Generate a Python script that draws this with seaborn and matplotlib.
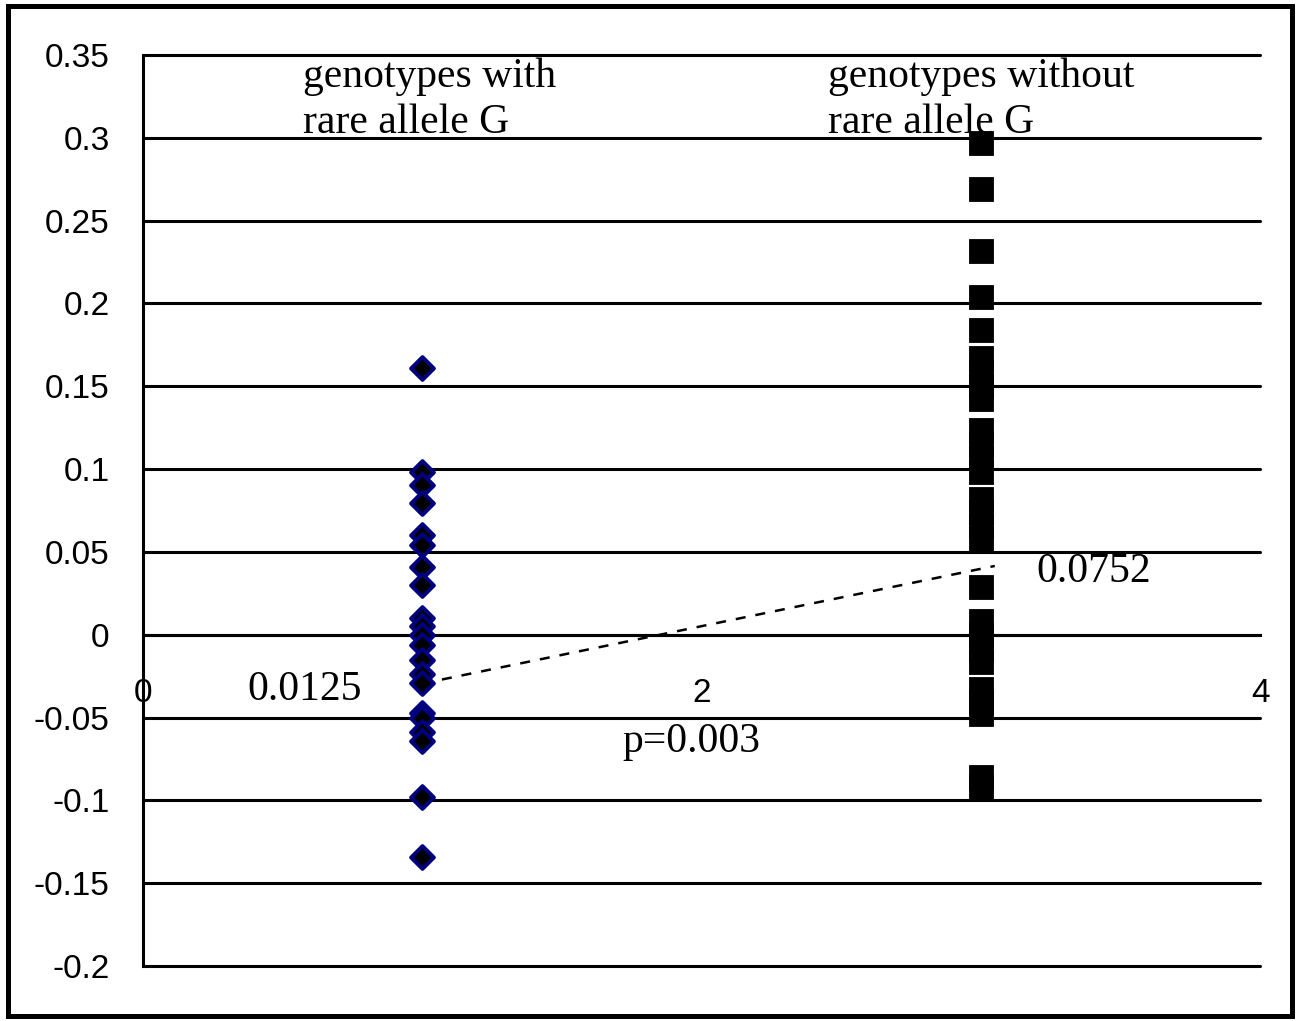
import matplotlib
matplotlib.use("Agg")
import matplotlib.pyplot as plt
from matplotlib.patches import Rectangle
import numpy as np
import pandas as pd
import seaborn as sns

# values
with_g = [0.161, 0.0985, 0.0905, 0.0795, 0.060, 0.054, 0.041, 0.030, 0.010,
          0.005, 0.0, -0.006, -0.015, -0.024, -0.029, -0.047, -0.050, -0.059,
          -0.064, -0.098, -0.134]
without_g = [0.297, 0.269, 0.2315, 0.204, 0.184, 0.1668, 0.1587, 0.1503, 0.1421,
             0.1234, 0.1152, 0.1068, 0.098, 0.0817, 0.0741, 0.0657, 0.0575,
             0.0289, 0.008, 0.0, -0.0086, -0.0167, -0.033, -0.0406, -0.0481,
             -0.0862, -0.0922]
group_x = [1, 3]
trend_x = [1.0, 3.05]
trend_y = [-0.0295, 0.0415]

y_ticks = [0.35, 0.3, 0.25, 0.2, 0.15, 0.1, 0.05, 0.0, -0.05, -0.1, -0.15, -0.2]
y_labels = ["0.35", "0.3", "0.25", "0.2", "0.15", "0.1", "0.05", "0",
            "-0.05", "-0.1", "-0.15", "-0.2"]
x_ticks = [0, 2, 4]
x_labels = ["0", "2", "4"]

df_with = pd.DataFrame({"x": group_x[0], "y": with_g})
df_without = pd.DataFrame({"x": group_x[1], "y": without_g})

sns.set_style("white")
plt.rcParams["font.family"] = ["Liberation Sans", "DejaVu Sans"]
plt.rcParams["axes.unicode_minus"] = False
plt.rcParams["text.color"] = "black"

fig = plt.figure(figsize=(12.98, 10.21), dpi=100)
ax = fig.add_axes([0.1102, 0.0539, 0.8606, 0.8923])
ax.set_xlim(0, 4)
ax.set_ylim(-0.2, 0.35)

# Excel-style horizontal gridlines
for v in y_ticks:
    ax.axhline(v, color="black", lw=2.2, clip_on=False, zorder=1)

sns.lineplot(x=trend_x, y=trend_y, ax=ax, color="black", lw=1.8,
             linestyle=(0, (4, 4)), zorder=2)
sns.scatterplot(data=df_with, x="x", y="y", ax=ax, marker="D", s=135,
                color="black", edgecolor="#000080", linewidth=2.8, zorder=4)
sns.scatterplot(data=df_without, x="x", y="y", ax=ax, marker="s", s=310,
                color="black", edgecolor="black", linewidth=0.6, zorder=4)

ax.spines["top"].set_visible(False)
ax.spines["right"].set_visible(False)
ax.spines["bottom"].set_position(("data", 0))
for s in ["left", "bottom"]:
    ax.spines[s].set_linewidth(2.2)
    ax.spines[s].set_color("black")
    ax.spines[s].set_zorder(3)

ax.set_yticks(y_ticks)
ax.set_yticklabels(y_labels)
ax.set_xticks(x_ticks)
ax.set_xticklabels(x_labels)
ax.tick_params(axis="y", direction="out", length=7, width=2.2, pad=17,
               labelsize=24, colors="black")
ax.tick_params(axis="x", direction="inout", length=12, width=1.5, pad=25,
               labelsize=24, colors="black")
ax.set_xlabel("")
ax.set_ylabel("")

serif = ["Liberation Serif", "DejaVu Serif"]
ax.text(0.573, 0.323, "genotypes with\nrare allele G", family=serif,
        fontsize=30, ha="left", va="center", linespacing=1.25, zorder=2)
ax.text(2.452, 0.323, "genotypes without\nrare allele G", family=serif,
        fontsize=30, ha="left", va="center", linespacing=1.25, zorder=2)
ax.text(0.577, -0.0335, "0.0125", family=serif, fontsize=30,
        ha="center", va="center")
ax.text(3.405, 0.038, "0.0752", family=serif, fontsize=30,
        ha="center", va="center")
ax.text(1.964, -0.0649, "p=0.003", family=serif, fontsize=30,
        ha="center", va="center")

fig.add_artist(Rectangle((7.5 / 1298, 5 / 1021), 1284.5 / 1298, 1010 / 1021,
                         transform=fig.transFigure, fill=False, lw=3.6,
                         ec="black"))

fig.savefig("out.png", dpi=100)
